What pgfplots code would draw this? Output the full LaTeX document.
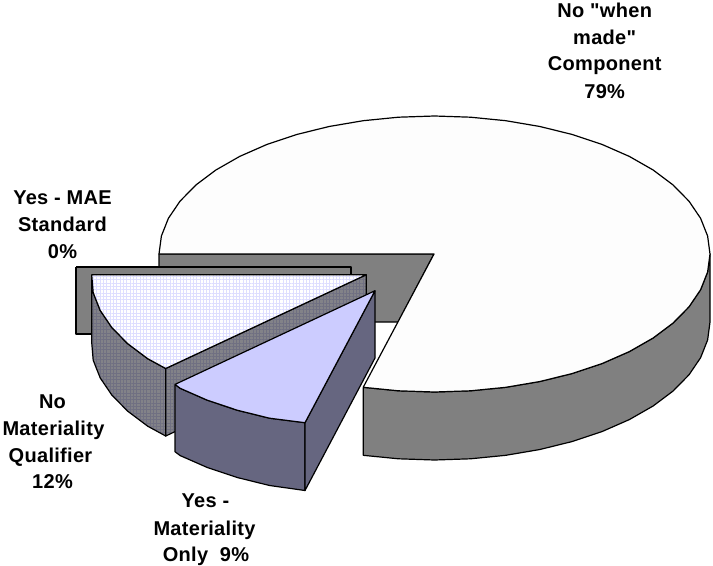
\documentclass[border=0pt]{standalone}
\usepackage{fontspec}
\setmainfont{Liberation Sans}[Ligatures=TeXOff,LetterSpace=1.5]
\usepackage{pgfplots}
\usepackage{pgfplotstable}
\pgfplotsset{compat=1.18}
\usetikzlibrary{patterns.meta}

\definecolor{wallgray}{RGB}{128,128,128}
\definecolor{maintop}{RGB}{253,253,253}
\definecolor{qualgrid}{RGB}{222,222,255}
\definecolor{qualwall}{RGB}{130,130,136}
\definecolor{qualline}{RGB}{112,112,130}
\definecolor{onlytop}{RGB}{204,204,255}
\definecolor{onlywall}{RGB}{102,102,128}

\tikzset{lab/.style={font=\bfseries\fontsize{20bp}{27bp}\selectfont, anchor=base, text=black, inner sep=0pt}}

% Outline of each slice face, in drawing units (y runs downward).
\pgfplotstableread{
x y
363.2 387.3
398.5 390.8
434.5 392
470.5 390.8
505.8 387.3
539.9 381.5
572.3 373.5
602.2 363.5
629.3 351.6
653.1 338
673.1 323
689 306.8
700.6 289.7
707.6 272
710 254
707.6 236
700.6 218.3
689 201.2
673.1 185
653.1 170
629.3 156.4
602.2 144.5
572.3 134.5
539.9 126.5
505.8 120.7
470.5 117.2
434.5 116
398.5 117.2
363.2 120.7
329.1 126.5
296.7 134.5
266.8 144.5
239.7 156.4
215.9 170
195.9 185
180 201.2
168.4 218.3
161.4 236
159 254
434 254
363.2 387.3
}\mainTop

\pgfplotstableread{
x y
363.2 387.3
398.5 390.8
434.5 392
470.5 390.8
505.8 387.3
539.9 381.5
572.3 373.5
602.2 363.5
629.3 351.6
653.1 338
673.1 323
689 306.8
700.6 289.7
707.6 272
710 254
710 322
707.6 340
700.6 357.7
689 374.8
673.1 391
653.1 406
629.3 419.6
602.2 431.5
572.3 441.5
539.9 449.5
505.8 455.3
470.5 458.8
434.5 460
398.5 458.8
363.2 455.3
363.2 387.3
}\mainSide

\pgfplotstableread{
x y
159 254
434 254
398.3 322
159 322
159 254
}\mainInner

\pgfplotstableread{
x y
76 267
351 267
351 334
76 334
76 267
}\maeWall

\pgfplotstableread{
x y
91.7 274.7
93.2 292.7
100.2 310.4
111.8 327.5
127.7 343.7
147.7 358.7
165.7 368.5
366.3 274.7
91.7 274.7
}\qualTop

\pgfplotstableread{
x y
91.7 274.7
93.2 292.7
100.2 310.4
111.8 327.5
127.7 343.7
147.7 358.7
165.7 368.5
165.7 436
147.7 426.2
127.7 411.2
111.8 395
100.2 377.9
93.2 360.2
91.7 342.2
91.7 274.7
}\qualSide

\pgfplotstableread{
x y
366.3 274.7
165.7 368.5
165.7 436
366.3 342.2
366.3 274.7
}\qualInner

\pgfplotstableread{
x y
175 384.4
180.2 388.3
207.3 400.2
237.2 410.2
269.6 418.2
305 422.7
375 290.7
175 384.4
}\onlyTop

\pgfplotstableread{
x y
175 384.4
180.2 388.3
207.3 400.2
237.2 410.2
269.6 418.2
305 422.7
305 490.5
269.6 485.5
237.2 477.5
207.3 467.5
180.2 455.6
175 451.7
175 384.4
}\onlySide

\pgfplotstableread{
x y
375 290.7
305 422.7
305 490.5
375 358
375 290.7
}\onlyInner

\begin{document}
\begin{tikzpicture}
\path[use as bounding box] (0,0) rectangle (713bp,566bp);
\begin{axis}[
  at={(0,0)}, anchor=south west,
  width=713bp, height=566bp, scale only axis,
  xmin=0, xmax=713, ymin=0, ymax=566,
  y dir=reverse, hide axis, clip=false,
  every axis plot/.append style={line width=1.2bp, line join=round},
  hatchH/.style={draw=none, pattern={Lines[angle=0,distance=3.33bp,line width=.6bp]}, pattern color=#1},
  hatchV/.style={draw=none, pattern={Lines[angle=90,distance=3.33bp,line width=.6bp]}, pattern color=#1},
]
% large slice: rim, inner cut wall, top
\addplot[draw=black, fill=wallgray] table {\mainSide};
\addplot[draw=black, fill=wallgray] table {\mainInner};
\addplot[draw=black, fill=maintop] table {\mainTop};
% zero-percent slice, seen only as its wall
\addplot[draw=black, fill=wallgray] table {\maeWall};
% no-qualifier slice: walls with a fine lattice, gridded top
\addplot[draw=none, fill=qualwall] table {\qualSide};
\addplot[hatchH=qualline] table {\qualSide};
\addplot[hatchV=qualline] table {\qualSide};
\addplot[draw=black] table {\qualSide};
\addplot[draw=none, fill=qualwall] table {\qualInner};
\addplot[hatchH=qualline] table {\qualInner};
\addplot[hatchV=qualline] table {\qualInner};
\addplot[draw=black] table {\qualInner};
\addplot[draw=none, fill=white] table {\qualTop};
\addplot[hatchH=qualgrid] table {\qualTop};
\addplot[hatchV=qualgrid] table {\qualTop};
\addplot[draw=black] table {\qualTop};
% materiality-only slice
\addplot[draw=black, fill=onlywall] table {\onlySide};
\addplot[draw=black, fill=onlywall] table {\onlyInner};
\addplot[draw=black, fill=onlytop] table {\onlyTop};

% slice labels, one node per line on its baseline
\node[lab] at (axis cs:604.7,17.7) {No "when};
\node[lab] at (axis cs:604.7,45) {made"};
\node[lab] at (axis cs:604.7,71) {Component};
\node[lab] at (axis cs:604.7,98) {79\%};
\node[lab] at (axis cs:62.5,204) {Yes - MAE};
\node[lab] at (axis cs:62.5,231) {Standard};
\node[lab] at (axis cs:62.5,258) {0\%};
\node[lab] at (axis cs:52.5,408) {No};
\node[lab] at (axis cs:53.5,435) {Materiality};
\node[lab] at (axis cs:50.5,462) {Qualifier};
\node[lab] at (axis cs:52.5,488.5) {12\%};
\node[lab] at (axis cs:205.5,507) {Yes -};
\node[lab] at (axis cs:204.5,535) {Materiality};
\node[lab] at (axis cs:206,561) {Only\ \ 9\%};
\end{axis}
\end{tikzpicture}
\end{document}
